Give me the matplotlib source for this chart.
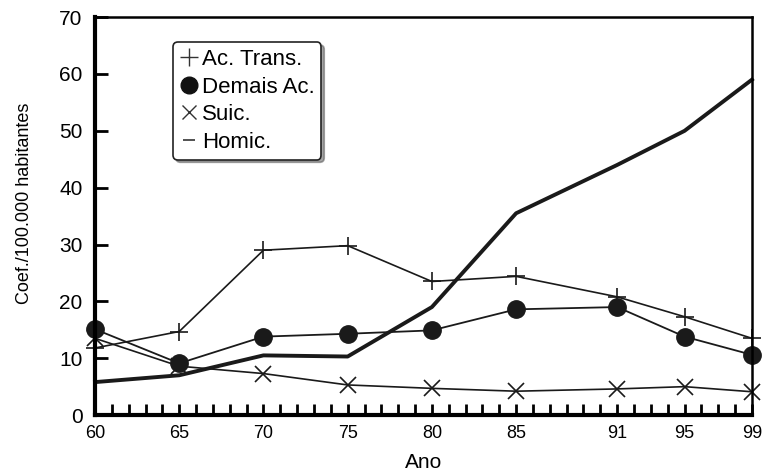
#!/usr/bin/env python3

import matplotlib.pyplot as plt
from matplotlib.lines import Line2D
from matplotlib.ticker import MultipleLocator

plt.rcParams['font.family'] = ['Liberation Sans', 'DejaVu Sans']

anos = [60, 65, 70, 75, 80, 85, 91, 95, 99]
ac_trans = [11.8, 14.7, 29.0, 29.8, 23.5, 24.4, 20.8, 17.3, 13.5]
demais_ac = [15.1, 9.1, 13.8, 14.3, 14.9, 18.6, 19.0, 13.8, 10.6]
suic = [13.5, 8.6, 7.3, 5.3, 4.7, 4.2, 4.6, 5.0, 4.1]
homic = [5.8, 7.0, 10.5, 10.3, 19.0, 35.5, 44.0, 50.0, 59.0]
tick_labels = ['60', '65', '70', '75', '80', '85', '91', '95', '99']

fig = plt.figure(figsize=(7.63, 4.76), dpi=100)
ax = fig.add_axes([0.1245, 0.128, 0.861, 0.836])

ax.plot(anos, ac_trans, color='#1a1a1a', lw=1.2, marker='+', ms=13, mew=1.2, clip_on=False)
ax.plot(anos, demais_ac, color='#1a1a1a', lw=1.3, marker='o', ms=12.5, clip_on=False)
ax.plot(anos, suic, color='#1a1a1a', lw=1.2, marker='x', ms=12, mew=1.2, clip_on=False)
ax.plot(anos, homic, color='#1a1a1a', lw=2.8, clip_on=False)

ax.set_xlim(60, 99)
ax.set_ylim(0, 70)
ax.set_xticks(anos)
ax.set_xticklabels(tick_labels, fontsize=13)
ax.xaxis.set_minor_locator(MultipleLocator(1))
ax.set_yticks(range(0, 71, 10))
ax.tick_params(axis='y', direction='in', length=9, width=2, labelsize=15, pad=9)
ax.tick_params(axis='x', which='both', direction='in', length=8, width=2, pad=7)

for side in ['left', 'bottom']:
    ax.spines[side].set_linewidth(3)
for side in ['top', 'right']:
    ax.spines[side].set_linewidth(1.8)

ax.set_xlabel('Ano', fontsize=15, labelpad=8)
ax.set_ylabel('Coef./100.000 habitantes', fontsize=13)
ax.yaxis.set_label_coords(-0.094, 0.533)

handles = [
    Line2D([], [], ls='none', marker='+', ms=13, mew=1, color='#333333'),
    Line2D([], [], ls='none', marker='o', ms=12, color='#111111'),
    Line2D([], [], ls='none', marker='x', ms=10, mew=1, color='#333333'),
    Line2D([], [], ls='none', marker='_', ms=8, mew=1.2, color='#333333'),
]
leg = ax.legend(handles, ['Ac. Trans.', 'Demais Ac.', 'Suic.', 'Homic.'],
                loc='upper left', bbox_to_anchor=(0.119, 0.937), fontsize=16,
                handlelength=0.8, handletextpad=0.2, labelspacing=0.3,
                borderpad=0.3, borderaxespad=0, fancybox=True, shadow=True,
                frameon=True)
leg.get_frame().set_edgecolor('#222222')
leg.get_frame().set_linewidth(1.2)

fig.savefig('out.png', dpi=100)
